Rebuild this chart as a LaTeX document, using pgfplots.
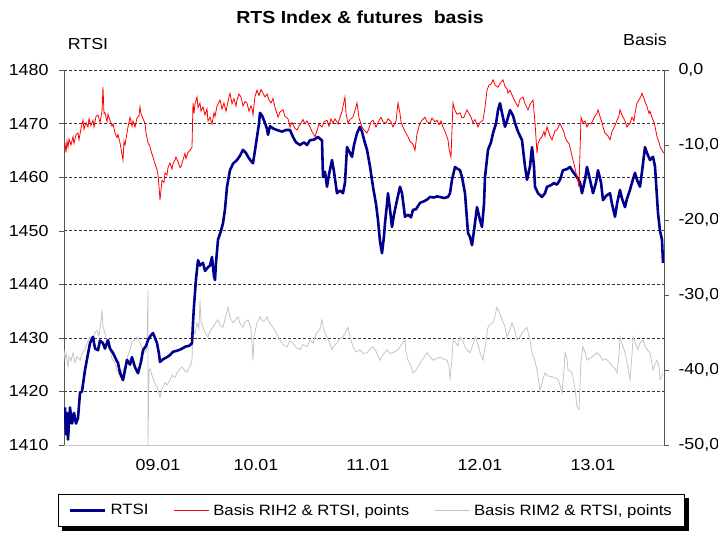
\documentclass[border=0pt]{standalone}
\usepackage{fontspec}
\setmainfont[FakeStretch=1.12]{Liberation Sans}
\usepackage{pgfplots}
\pgfplotsset{compat=1.18}

\definecolor{rtsblue}{RGB}{0,0,140}
\definecolor{rimgray}{RGB}{196,196,196}
\definecolor{axisgray}{RGB}{85,85,85}

\pgfplotsset{
  base/.style={width=600bp, height=375bp, scale only axis, at={(0,0)}, anchor=south west,
    xmin=0, xmax=600, font=\fontsize{16}{19}\selectfont,
    /pgf/number format/assume math mode=true},
  hidden/.style={base, hide axis},
}

\begin{document}
\begin{tikzpicture}
\useasboundingbox (-64bp,-89bp) rectangle (654bp,445bp);

% left axis, grid, dates
\begin{axis}[base, ymin=1410, ymax=1480, ytick={1410,1420,...,1480},
  xtick={94,192,304,416,529}, xticklabels={09.01,10.01,11.01,12.01,13.01},
  axis x line*=bottom, axis y line*=left,
  x axis line style={draw=gray!45,-}, y axis line style={draw=axisgray,line width=0.8pt,-},
  ymajorgrids, major grid style={densely dashed, black!80, line width=0.6pt},
  tick align=outside, major tick length=5bp,
  xtick style={draw=none}, ytick style={draw=axisgray},
  yticklabel style={xshift=-7bp}, xticklabel style={yshift=-6bp},
  /pgf/number format/1000 sep={}]
\end{axis}

% RIM2 basis (right scale)
\begin{axis}[hidden, ymin=-50, ymax=0]
\addplot[rimgray, line width=0.8pt] coordinates {
(0,-37.3) (1,-38.5) (2,-37.8) (4,-39.6) (5,-38.2) (7,-38.8) (9,-37.7) (11,-39) (13,-38.2)
(16,-38.7) (18,-37.8) (21,-37.3) (23,-36.5) (26,-35.6) (28,-36.2) (31,-35) (33,-34.7)
(35,-35.5) (37,-33.5) (38,-32) (39,-34.2) (41,-35.1) (43,-36.4) (46,-37.3) (48,-38.5)
(51,-39.1) (53,-40) (56,-40.9) (58,-40.1) (61,-39.6) (63,-38.4) (66,-37.3) (68,-36.2)
(71,-36) (73,-35.6) (76,-36.4) (78,-37.1) (81,-37.7) (83,-37) (84,-29.3) (84,-50)
(85,-40) (86,-39.8) (88,-40.7) (90,-41.5) (93,-42.3) (95,-43.1) (96,-43.6) (98,-42.5)
(101,-41.7) (103,-42) (106,-41.3) (108,-40.7) (111,-41) (113,-40.4) (116,-39.8) (118,-39.6)
(121,-40.1) (123,-40.3) (126,-39.5) (128,-38.7) (129,-34.3) (131,-35.2) (133,-33.7)
(135,-34.5) (136,-30.7) (137,-33.5) (139,-34.3) (141,-35) (144,-35.6) (146,-34.8)
(149,-34.3) (151,-33.8) (154,-33.3) (156,-34) (159,-34.3) (161,-33.2) (164,-31.6) (166,-33)
(169,-33.7) (171,-33.4) (174,-32.9) (176,-33.8) (179,-34.3) (181,-33.6) (184,-33.3)
(187,-34.5) (189,-38.7) (190,-35.5) (193,-33.7) (195,-33.3) (196,-32.9) (199,-33.5)
(201,-33.4) (203,-32.9) (206,-33.8) (209,-34.3) (212,-35) (216,-36) (219,-36.6) (223,-36.9)
(226,-36.1) (229,-36.4) (232,-37) (236,-37.3) (239,-36.6) (243,-36.9) (246,-36) (249,-36.4)
(252,-35.2) (256,-34.5) (258,-33.3) (260,-34.8) (263,-35.6) (266,-36.5) (268,-37.3)
(270,-36.8) (273,-36.4) (276,-35.8) (279,-35.6) (282,-34.8) (284,-34.3) (286,-35.5)
(289,-36.9) (292,-37.6) (296,-37.3) (299,-37.8) (303,-37.7) (306,-37.2) (309,-36.9)
(312,-37.5) (316,-38.7) (319,-38) (323,-37.3) (326,-37.8) (329,-37.7) (333,-37.4)
(336,-36.9) (338,-36.5) (341,-36) (342,-37.5) (344,-38.7) (347,-39.5) (349,-40.4) (352,-40)
(356,-39.1) (359,-38.5) (363,-37.7) (366,-38.2) (369,-38.7) (372,-38.5) (376,-38.3)
(379,-38.5) (383,-38.7) (385,-39.5) (386,-41.3) (388,-38.5) (389,-36) (392,-36.4)
(394,-36.8) (396,-35.6) (399,-36.2) (401,-36.9) (403,-37.3) (406,-37.7) (409,-36.6)
(411,-35.6) (414,-36.5) (416,-37.7) (419,-38.7) (421,-37) (424,-34.3) (426,-33.9)
(429,-33.7) (431,-32.8) (433,-31.6) (436,-32.5) (438,-33.3) (441,-34.2) (443,-35.6)
(446,-34.6) (448,-33.7) (451,-34.8) (453,-36) (456,-35.6) (458,-35.1) (461,-34.6)
(463,-34.3) (466,-36) (468,-37.7) (471,-38.8) (473,-40) (476,-42.7) (479,-41.2) (481,-40.4)
(484,-40.8) (488,-40.9) (491,-41) (494,-41.3) (496,-42) (498,-43.1) (500,-40) (501,-37.7)
(503,-38.5) (504,-40) (507,-40.2) (509,-40.9) (511,-42.5) (513,-44.9) (515,-45.3)
(517,-38.8) (519,-36.9) (521,-37.6) (523,-38.7) (526,-38.4) (528,-38.3) (531,-37.9)
(533,-37.7) (536,-38.1) (539,-38.7) (542,-38.5) (546,-39.1) (549,-39.6) (551,-39.8)
(553,-40.4) (555,-38) (556,-35.6) (558,-36.5) (561,-37.7) (563,-39) (566,-41.3) (568,-38)
(569,-35.6) (572,-36.6) (574,-37.3) (576,-36.4) (579,-36) (581,-36.8) (583,-37.3)
(586,-37.7) (589,-40) (591,-39.2) (593,-38.7) (595,-39.5) (596,-41.3) (598,-40.8) (599,-40.4)
};
\end{axis}

% RTSI (left scale)
\begin{axis}[hidden, ymin=1410, ymax=1480]
\addplot[rtsblue, line width=2.6pt, line join=round] coordinates {
(1,1417) (2,1412) (3,1416) (4,1411) (5,1414) (6,1417) (8,1414) (10,1416) (12,1414) (14,1415)
(16,1419.7) (18,1420) (21,1424) (24,1427) (26,1429) (29,1430.2) (31,1428) (34,1427.7)
(36,1429.5) (39,1429) (41,1428) (44,1429.6) (46,1428) (49,1427.2) (52,1426) (54,1425.3)
(56,1423.5) (59,1422.1) (61,1424) (63,1425.9) (66,1425) (68,1426.4) (71,1424.5) (74,1423.4)
(77,1425.5) (79,1427.7) (82,1428.5) (84,1429.6) (87,1430.5) (89,1430.9) (91,1430) (93,1429)
(95,1427) (96,1425.5) (99,1426) (103,1426.4) (106,1426.8) (109,1427.4) (113,1427.6)
(116,1427.8) (119,1428.1) (122,1428.4) (125,1428.5) (128,1429) (129,1432.8) (130,1436)
(131,1438.4) (132,1441) (134,1444.5) (136,1443.5) (139,1444) (141,1442.5) (144,1443.2)
(146,1443.5) (148,1445.1) (150,1441.5) (151,1440.8) (152,1444) (154,1448.3) (157,1450)
(159,1451.4) (161,1454) (163,1458.2) (166,1461.3) (169,1462.5) (173,1463.2) (176,1464)
(179,1465.1) (182,1464.5) (184,1463.8) (187,1463) (189,1462.6) (191,1465) (193,1467.5)
(195,1470) (196,1472) (198,1471.5) (201,1470.1) (203,1469) (204,1467.9) (206,1469.5)
(210,1469) (213,1468.8) (218,1468.5) (222,1468.8) (226,1468.8) (229,1467.5) (232,1466.5)
(236,1466) (240,1466.5) (243,1466) (246,1466.9) (250,1467) (254,1467.5) (257,1467)
(258,1466.9) (259,1460) (261,1461) (263,1458.2) (265,1460.5) (268,1463.2) (270,1461)
(273,1457) (276,1457.5) (279,1457) (281,1459) (283,1465.6) (286,1464.5) (288,1463.8)
(290,1466) (293,1468.2) (296,1469.4) (298,1468.5) (300,1467) (303,1465.1) (306,1462)
(309,1458.2) (312,1455) (314,1452) (316,1448) (318,1445.8) (320,1449) (321,1451.4)
(323,1455) (324,1457) (326,1454) (328,1450.7) (330,1453) (333,1455.7) (336,1458.2)
(338,1457) (341,1452.6) (344,1453) (347,1452.5) (349,1453.9) (352,1454) (356,1455.2)
(360,1455.5) (363,1455.8) (366,1456.3) (370,1456.2) (373,1456.4) (376,1456.3) (380,1456.1)
(384,1456.3) (386,1457) (388,1459.5) (391,1461.9) (394,1461.5) (396,1461.3) (398,1460)
(401,1457) (404,1449.6) (406,1448.8) (408,1447.3) (410,1450) (413,1454.4) (416,1452)
(418,1450.7) (420,1455) (421,1460) (424,1465.1) (427,1466.5) (429,1468.2) (432,1470)
(434,1472.5) (436,1473.8) (438,1472) (441,1469.4) (443,1470.5) (446,1472.5) (449,1471.5)
(451,1470.1) (454,1468.5) (458,1466.9) (461,1462) (463,1459.5) (466,1462) (468,1465.6)
(470,1462) (471,1458.2) (474,1457) (478,1456.3) (481,1457) (483,1458.2) (487,1458.5)
(490,1458.9) (493,1458.6) (496,1459.5) (499,1461.3) (503,1461.5) (506,1461.9) (509,1461)
(513,1460) (516,1459) (518,1457) (521,1459.5) (523,1461.9) (526,1459.5) (529,1457)
(532,1459) (534,1461.3) (537,1459) (539,1455.7) (542,1456.5) (546,1457) (548,1455)
(551,1452.6) (553,1455) (556,1457.6) (558,1456) (561,1454.4) (563,1456) (566,1457.6)
(568,1459) (571,1460.8) (573,1459.5) (576,1458.2) (578,1461) (581,1465.6) (583,1464.5)
(586,1463.2) (589,1463.8) (591,1462) (594,1453.3) (596,1450) (598,1448.3) (599,1444)
};
\end{axis}

% RIH2 basis, right axis, legend
\begin{axis}[base, ymin=-50, ymax=0, ytick={-50,-40,...,0},
  axis y line*=right, axis x line=none,
  y axis line style={draw=axisgray,line width=0.8pt,-},
  tick align=outside, major tick length=5bp, ytick style={draw=axisgray},
  yticklabel style={xshift=6bp, /pgf/number format/.cd, fixed, fixed zerofill, precision=1, use comma},
  legend columns=3,
  legend image code/.code={\draw[#1] (0bp,0bp) -- (35bp,0bp);},
  legend style={name=leg, at={(0.5125,-0.1747)}, anchor=center, draw=black, line width=0.8pt,
    fill=white, font=\fontsize{15}{18}\selectfont, inner xsep=11bp, inner ysep=8bp,
    /tikz/every even column/.append style={column sep=23bp},
    /tikz/every odd column/.append style={column sep=2bp}}]
\addlegendimage{rtsblue, line width=2.6pt}
\addlegendentry{RTSI}
\addplot[red, line width=0.8pt] coordinates {
(1,-9.7) (2,-11) (3,-9.5) (4,-10.3) (5,-9.2) (7,-10) (9,-8.9) (10,-9.8) (12,-8.6) (14,-8.4)
(15,-9.3) (17,-7.8) (19,-6.7) (20,-7.9) (22,-7) (24,-7.6) (25,-6.5) (27,-7.4) (29,-6.7)
(30,-7.6) (32,-6.2) (34,-6.0) (36,-7) (38,-5.5) (39,-2.3) (40,-5.8) (41,-5.7) (43,-6.9)
(44,-5.9) (46,-6.7) (48,-7.5) (49,-7.2) (51,-8.4) (53,-9) (54,-8.6) (56,-9.7) (57,-10.5)
(59,-12) (60,-9.5) (61,-10) (63,-8.4) (64,-7.6) (66,-6.3) (68,-7.5) (69,-6.8) (71,-7.6)
(73,-6.4) (75,-6.1) (76,-4.9) (77,-5.8) (79,-6.5) (81,-7.1) (82,-8.4) (84,-9.7) (86,-10.2)
(87,-10.8) (89,-11.6) (91,-12.5) (93,-13.3) (94,-14) (95,-15.5) (96,-17.3) (97,-16)
(98,-14.7) (100,-15) (101,-13.7) (103,-14) (104,-13) (106,-12.4) (108,-13.2) (109,-12.5)
(111,-12) (112,-11.6) (114,-12.2) (116,-13) (117,-12.9) (119,-12) (121,-11.1) (122,-11.8)
(124,-11) (126,-10.7) (128,-10.3) (129,-4.4) (130,-5.8) (131,-4.5) (133,-3.6) (134,-5)
(136,-4.4) (137,-5.5) (139,-4.9) (141,-6) (143,-5.2) (144,-6.8) (146,-6.3) (148,-7.2)
(150,-5.7) (151,-6.2) (153,-4.8) (156,-4) (158,-5.2) (160,-4.4) (162,-5.5) (164,-4.2)
(166,-3.1) (168,-4.5) (170,-3.8) (172,-4.8) (173,-4) (175,-3.2) (177,-3.6) (179,-4.8)
(181,-4.2) (183,-4.4) (185,-5.5) (187,-4.8) (188,-5.1) (189,-6) (191,-3.5) (193,-2.7)
(195,-3.4) (197,-2.6) (199,-3.1) (201,-3.6) (203,-3.2) (205,-4.0) (207,-4.4) (209,-3.8)
(211,-5) (213,-5.8) (214,-6.3) (216,-5.6) (219,-5.3) (221,-6.2) (224,-6.5) (226,-7.6)
(228,-7) (231,-7.8) (233,-8) (235,-7.5) (237,-7.1) (239,-6.6) (241,-7.2) (243,-6.8)
(246,-7.6) (248,-8.2) (251,-8.9) (253,-8.1) (255,-7.2) (258,-7.6) (260,-6.9) (263,-6.7)
(265,-7.5) (267,-6.5) (269,-7.1) (271,-6.5) (274,-7.2) (276,-6.3) (278,-5.5) (281,-3.6)
(282,-5.8) (284,-7.1) (286,-6.6) (289,-6.3) (291,-5.4) (293,-4.4) (295,-6.4) (298,-7.6)
(300,-8) (303,-8.4) (305,-7.8) (307,-6.9) (309,-6.7) (312,-7.6) (314,-7) (317,-6.3)
(319,-6.9) (322,-7.1) (324,-6.5) (327,-6.9) (329,-7.6) (332,-6.8) (334,-4.4) (336,-5.8)
(337,-6.9) (339,-7.6) (341,-8.2) (344,-8.9) (346,-9.5) (349,-9.9) (351,-10.7) (353,-8.5)
(356,-7.1) (358,-6.7) (361,-6.3) (363,-6.9) (366,-7.1) (368,-6.4) (371,-6.9) (373,-6.7)
(375,-7.3) (377,-6.8) (379,-7.6) (381,-8.2) (384,-9.3) (385,-10.5) (387,-11.6) (389,-4.4)
(391,-5.4) (393,-5.9) (396,-5.7) (398,-6.4) (400,-6.3) (403,-5.3) (405,-5.8) (407,-6.3)
(409,-7) (411,-6.6) (414,-7.6) (416,-7) (419,-6.7) (421,-5) (423,-2.7) (425,-2) (427,-1.9)
(429,-1.3) (431,-2) (434,-2.3) (436,-1.8) (439,-1.3) (441,-2.2) (443,-2.5) (444,-3.1)
(446,-2.7) (449,-3.6) (451,-4.2) (454,-4.9) (456,-3.9) (459,-3.6) (461,-4.5) (464,-5.3)
(466,-4.6) (469,-4) (471,-7) (473,-11.1) (474,-9.8) (476,-9.2) (478,-8.9) (480,-8.2)
(481,-8.8) (483,-7.6) (485,-8.4) (486,-8.8) (488,-9.3) (490,-8.5) (491,-8.1) (493,-8)
(495,-7.4) (496,-7.1) (498,-7.7) (500,-8.3) (501,-8.9) (503,-9.5) (505,-9.8) (506,-10.3)
(508,-11.5) (510,-12.5) (512,-13.7) (514,-14.8) (515,-15.6) (516,-11) (517,-6.3) (519,-7)
(521,-6.8) (523,-7.6) (525,-7.1) (527,-7.2) (529,-6.7) (531,-6.1) (533,-5.8) (534,-5.3)
(536,-6.2) (538,-7) (539,-7.6) (541,-8.4) (544,-8.8) (546,-9.3) (548,-8.2) (551,-7.4)
(553,-6.7) (555,-6.1) (556,-5.3) (558,-6) (561,-6.8) (563,-7.6) (566,-7.1) (568,-6.3)
(570,-6.8) (571,-5.8) (573,-4.4) (575,-4) (577,-3.5) (578,-3.1) (580,-3.8) (581,-4.2)
(583,-4.9) (585,-5.8) (586,-5.5) (588,-6.3) (590,-7) (591,-7.5) (593,-8.9) (595,-9.6)
(596,-10.2) (598,-10.7) (600,-11.1)
};
\addlegendentry{Basis RIH2 \& RTSI, points}
\addlegendimage{rimgray, line width=0.8pt}
\addlegendentry{Basis RIM2 \& RTSI, points}
\end{axis}

% legend shadow
\draw[black, line width=3.5bp]
  ([xshift=4bp,yshift=-1.75bp]leg.south west) -- ([xshift=1.75bp,yshift=-1.75bp]leg.south east)
  -- ([xshift=1.75bp,yshift=-4bp]leg.north east);

\node[font=\bfseries\fontsize{17.5}{21}\selectfont] at (296bp,428bp) {RTS Index \& futures\ \ basis};
\node[font=\fontsize{16}{19}\selectfont] at (24bp,401bp) {RTSI};
\node[font=\fontsize{16}{19}\selectfont] at (581bp,405bp) {Basis};
\end{tikzpicture}
\end{document}
